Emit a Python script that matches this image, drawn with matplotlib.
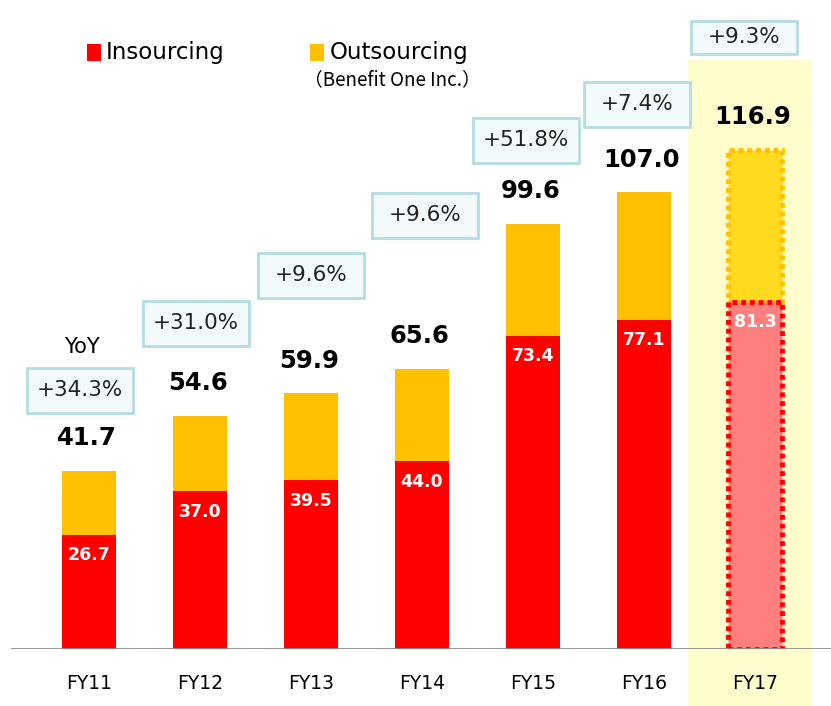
import matplotlib
matplotlib.use("Agg")
import matplotlib.pyplot as plt
from matplotlib.patches import Rectangle

years = ["FY11", "FY12", "FY13", "FY14", "FY15", "FY16", "FY17"]
insourcing = [26.7, 37.0, 39.5, 44.0, 73.4, 77.1, 81.3]
totals = [41.7, 54.6, 59.9, 65.6, 99.6, 107.0, 116.9]
yoy = ["+34.3%", "+31.0%", "+9.6%", "+9.6%", "+51.8%", "+7.4%", "+9.3%"]
outsourcing = [t - i for t, i in zip(totals, insourcing)]

# layout of the yoy boxes, in pixels (centre x, centre y, height)
box_x = [80, 196, 311, 425, 526, 637, 744]
box_y = [390, 323, 275, 215, 140, 104, 37]
box_h = [45, 45, 45, 45, 45, 45, 33]

W, H = 831, 706
fig = plt.figure(figsize=(W / 100, H / 100), dpi=100)
base_px = 649
ax = fig.add_axes([0, (H - base_px) / H, 1, base_px / H])
ax.set_facecolor("none")
ppu = 4.27
ax.set_ylim(0, base_px / ppu)
ax.set_xlim(-89 / 111, (W - 89) / 111)
ax.axis("off")

def fx(x):
    return x / W

def fy(y):
    return 1 - y / H

# highlight behind FY17
fig.patches.append(Rectangle((fx(688), 0), fx(812) - fx(688), fy(60), transform=fig.transFigure,
                             facecolor="#FFFDCC", edgecolor="none", zorder=-1))

x = list(range(len(years)))
bw = 0.495
red = ["#FF0000"] * 6 + ["#FF7F7F"]
gold = ["#FFC000"] * 6 + ["#FFDA1F"]
for i in x:
    if i < 6:
        ax.bar(i, insourcing[i], bw, color=red[i], zorder=2)
        ax.bar(i, outsourcing[i], bw, bottom=insourcing[i], color=gold[i], zorder=2)
    else:
        ax.bar(i, insourcing[i], bw, facecolor=red[i], edgecolor="#FF0000",
               linestyle=(0, (1, 0.8)), linewidth=3.5, zorder=3)
        ax.bar(i, outsourcing[i], bw, bottom=insourcing[i], facecolor=gold[i],
               edgecolor="#FFC000", linestyle=(0, (1, 0.8)), linewidth=3.5, zorder=2)
    ax.text(i, insourcing[i] - 4.8, f"{insourcing[i]:.1f}", color="white", fontsize=12.5,
            fontweight="bold", ha="center", va="center", zorder=4)
    ax.text(i - 0.02, totals[i] + 7.6, f"{totals[i]:.1f}", color="black", fontsize=17.5,
            fontweight="bold", ha="center", va="center", zorder=4)
    ax.text(i, -8, years[i], fontsize=13.5, ha="center", va="center", clip_on=False)

ax.axhline(0, xmin=12 / W, xmax=1, color="#8C8C8C", linewidth=2, zorder=5)

for i in x:
    bx, by, bh = box_x[i], box_y[i], box_h[i]
    fig.patches.append(Rectangle((fx(bx - 53), fy(by + bh / 2)), fx(106), bh / H,
                                 transform=fig.transFigure, facecolor="#F3FAFB",
                                 edgecolor="#B4DDE2", linewidth=2, zorder=1))
    fig.text(fx(bx), fy(by), yoy[i], fontsize=15.5, ha="center", va="center", color="#222222")

fig.text(fx(82), fy(347), "YoY", fontsize=15, ha="center", va="center")

# legend
fig.patches.append(Rectangle((fx(87), fy(61)), fx(14), 17 / H, transform=fig.transFigure,
                             facecolor="#FF0000", edgecolor="none"))
fig.text(fx(106), fy(52), "Insourcing", fontsize=16.5, ha="left", va="center")
fig.patches.append(Rectangle((fx(310), fy(61)), fx(14), 17 / H, transform=fig.transFigure,
                             facecolor="#FFC000", edgecolor="none"))
fig.text(fx(330), fy(52), "Outsourcing", fontsize=16.5, ha="left", va="center")
fig.text(fx(392), fy(80), "（Benefit One Inc.）", fontsize=13.5, ha="center", va="center",
         family=["Noto Sans CJK JP", "DejaVu Sans"])

fig.savefig("out.png", dpi=100)
